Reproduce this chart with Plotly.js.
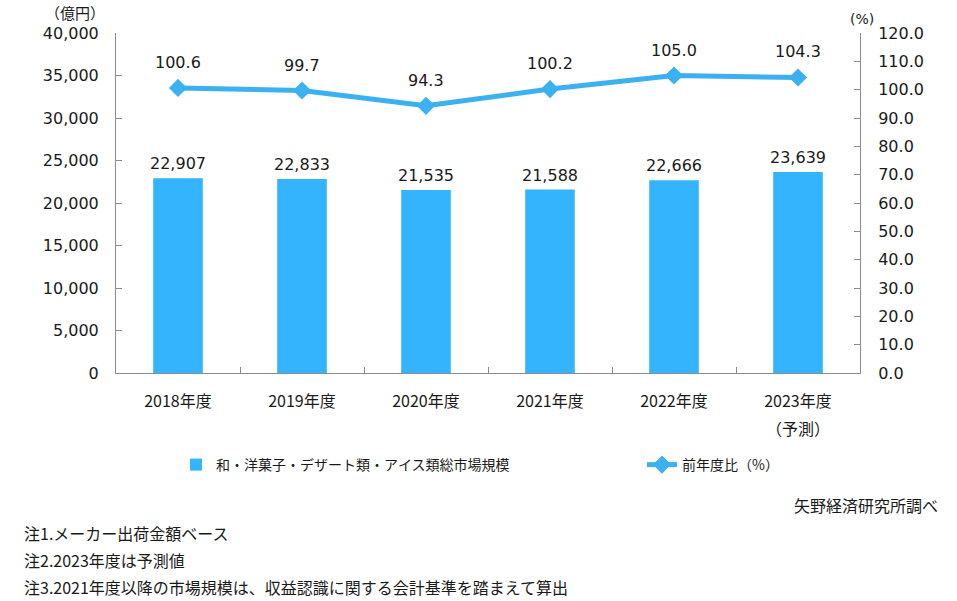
<!DOCTYPE html>
<html>
<head>
<meta charset="utf-8">
<script src="https://cdn.plot.ly/plotly-3.0.1.min.js"></script>
<style>html,body{margin:0;padding:0;background:#fff;}#chart{width:957px;height:601px;}</style>
</head>
<body>
<div id="chart"></div>
<script>
const categories = ['2018年度', '2019年度', '2020年度', '2021年度', '2022年度', '2023年度'];
const forecastCategory = '2023年度';
const forecastNote = '（予測）';
const marketSize = [22907, 22833, 21535, 21588, 22666, 23639];
const yoyRatio = [100.6, 99.7, 94.3, 100.2, 105.0, 104.3];
const barName = '和・洋菓子・デザート類・アイス類総市場規模';
const lineName = '前年度比（%）';
const notes = ['注1.メーカー出荷金額ベース', '注2.2023年度は予測値', '注3.2021年度以降の市場規模は、収益認識に関する会計基準を踏まえて算出'];
const source = '矢野経済研究所調べ';

const numFont = 'DejaVu Sans, Verdana, sans-serif';
const jpFont = 'Noto Sans CJK JP, sans-serif';
const barColor = '#33b4fd';
const lineColor = '#3cb1f2';
const txtColor = '#1a1a1a';

const L = 116, R = 860, T = 33, B = 373;
const px = x => (x - L) / (R - L);
const py = y => (B - y) / (B - T);

const annotations = [];
categories.forEach((c, i) => {
  annotations.push({
    x: c, y: marketSize[i], xref: 'x', yref: 'y',
    text: marketSize[i].toLocaleString('en-US'),
    showarrow: false, yanchor: 'bottom', yshift: 3,
    font: {family: numFont, size: 16, color: txtColor}
  });
  annotations.push({
    x: c, y: yoyRatio[i], xref: 'x', yref: 'y2',
    text: yoyRatio[i].toFixed(1),
    showarrow: false, yanchor: 'bottom', yshift: 14,
    font: {family: numFont, size: 16, color: txtColor}
  });
});
// forecast note under the last category label
annotations.push({x: forecastCategory, xref: 'x', y: py(428), yref: 'paper', text: forecastNote,
  showarrow: false, xanchor: 'center', yanchor: 'middle', font: {family: jpFont, size: 16, color: txtColor}});

const paperNotes = [];
paperNotes.push({x: 75, y: 13, text: '（億円）', xanchor: 'center', font: {family: jpFont, size: 15, color: txtColor}});
paperNotes.push({x: 862, y: 19, text: '(%)', xanchor: 'center', font: {family: numFont, size: 14, color: txtColor}});
paperNotes.push({x: 940, y: 505, text: source, xanchor: 'right', font: {family: jpFont, size: 16, color: txtColor}});
notes.forEach((n, i) => {
  paperNotes.push({x: 22, y: 533 + i * 27, text: n, xanchor: 'left', font: {family: jpFont, size: 16, color: txtColor}});
});
paperNotes.forEach(a => {
  annotations.push(Object.assign({}, a, {xref: 'paper', yref: 'paper', x: px(a.x), y: py(a.y),
    showarrow: false, yanchor: 'middle'}));
});

const traces = [
  {type: 'bar', name: barName, x: categories, y: marketSize, marker: {color: barColor}, width: 0.4,
   hoverinfo: 'skip', legend: 'legend'},
  {type: 'scatter', mode: 'lines+markers', name: lineName, x: categories, y: yoyRatio, yaxis: 'y2',
   line: {color: lineColor, width: 5}, marker: {symbol: 'diamond', size: 14, color: lineColor},
   hoverinfo: 'skip', legend: 'legend2'}
];

const axisColor = '#8c8c8c';
const legendFont = {family: jpFont, size: 14, color: txtColor};
const layout = {
  width: 957, height: 601,
  margin: {l: L, r: 957 - R, t: T, b: 601 - B},
  paper_bgcolor: '#fff', plot_bgcolor: '#fff',
  showlegend: true,
  legend: {orientation: 'h', x: px(176), y: py(465), xanchor: 'left', yanchor: 'middle', font: legendFont,
    bgcolor: 'rgba(0,0,0,0)'},
  legend2: {orientation: 'h', x: px(642), y: py(465), xanchor: 'left', yanchor: 'middle', font: legendFont,
    bgcolor: 'rgba(0,0,0,0)'},
  xaxis: {type: 'category', showline: true, linecolor: axisColor, linewidth: 1, showgrid: false,
    ticks: 'inside', ticklen: 6, tickcolor: axisColor, tickson: 'boundaries',
    tickfont: {family: jpFont, size: 16, color: txtColor}, ticklabelstandoff: 14, zeroline: false},
  yaxis: {range: [0, 40000], dtick: 5000, tickformat: ',', showline: true, linecolor: axisColor,
    showgrid: false, zeroline: false, ticks: 'inside', ticklen: 6, tickcolor: axisColor,
    tickfont: {family: numFont, size: 16, color: txtColor}, ticklabelstandoff: 13},
  yaxis2: {range: [0, 120], dtick: 10, tickformat: '.1f', overlaying: 'y', side: 'right', showline: true,
    linecolor: axisColor, showgrid: false, zeroline: false, ticks: 'inside', ticklen: 6, tickcolor: axisColor,
    tickfont: {family: numFont, size: 16, color: txtColor}, ticklabelstandoff: 14},
  annotations: annotations
};

Plotly.newPlot('chart', traces, layout, {displayModeBar: false, staticPlot: true});
</script>
</body>
</html>
